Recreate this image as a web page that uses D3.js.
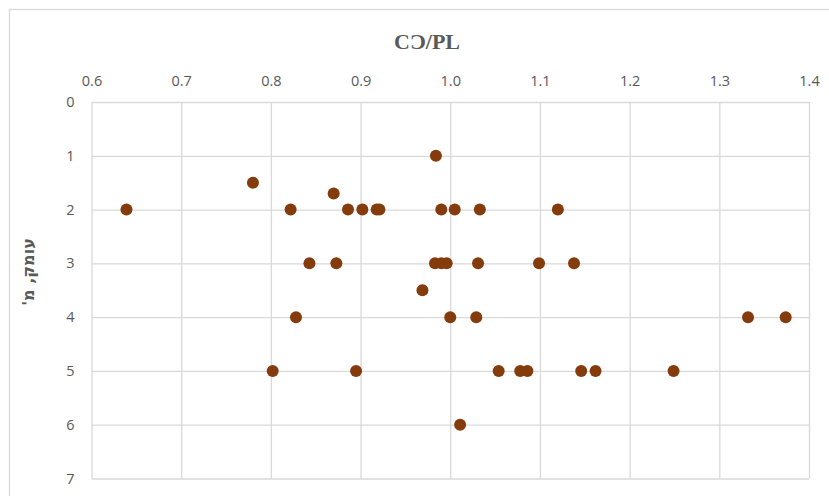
<!DOCTYPE html>
<html>
<head>
<meta charset="utf-8">
<script src="https://cdn.jsdelivr.net/npm/d3@7"></script>
<style>
  html, body { margin: 0; padding: 0; background: #fff; }
  svg { display: block; }
  .tick text { fill: #595959; font-family: "Open Sans", "Liberation Sans", sans-serif; font-size: 14.5px; }
</style>
</head>
<body>
<svg id="chart" width="829" height="496"></svg>
<script>
// Ratio (CƆ/PL) measured at each sample
const ratio = [
  0.984,
  0.780,
  0.870,
  0.639, 0.822, 0.886, 0.902, 0.918, 0.921, 0.990, 1.005, 1.033, 1.120,
  0.843, 0.873, 0.983, 0.990, 0.996, 1.031, 1.099, 1.138,
  0.969,
  0.828, 1.000, 1.029, 1.332, 1.374,
  0.802, 0.895, 1.054, 1.078, 1.086, 1.146, 1.162, 1.249,
  1.011
];
// Sample depth in metres
const depth = [
  1,
  1.5,
  1.7,
  2, 2, 2, 2, 2, 2, 2, 2, 2, 2,
  3, 3, 3, 3, 3, 3, 3, 3,
  3.5,
  4, 4, 4, 4, 4,
  5, 5, 5, 5, 5, 5, 5, 5,
  6
];
const xTicks = [0.6, 0.7, 0.8, 0.9, 1.0, 1.1, 1.2, 1.3, 1.4];
const yTicks = [0, 1, 2, 3, 4, 5, 6, 7];
const titleText = "CƆ/PL";
const yLabelText = "עומק, מ'";

const svg = d3.select("#chart");

// chart frame
svg.append("rect")
  .attr("x", 9.5).attr("y", 9.5)
  .attr("width", 900).attr("height", 600)
  .attr("fill", "none").attr("stroke", "#d9d9d9").attr("stroke-width", 1.3);

const x = d3.scaleLinear().domain([0.6, 1.4]).range([91.5, 809]);
const y = d3.scaleLinear().domain([0, 7]).range([102, 478.5]);

// vertical gridlines
svg.append("g")
  .attr("transform", `translate(0,${y(0)})`)
  .call(d3.axisTop(x).tickValues(xTicks).tickSize(-(y(7) - y(0))).tickFormat(""))
  .call(g => g.select(".domain").remove())
  .call(g => g.selectAll("line").attr("stroke", "#d9d9d9").attr("stroke-width", 1.3));

// horizontal gridlines
svg.append("g")
  .attr("transform", `translate(${x(0.6)},0)`)
  .call(d3.axisLeft(y).tickValues(yTicks).tickSize(-(x(1.4) - x(0.6))).tickFormat(""))
  .call(g => g.select(".domain").remove())
  .call(g => g.selectAll("line").attr("stroke", "#d9d9d9").attr("stroke-width", 1.3));

// top axis labels
svg.append("g")
  .attr("transform", `translate(0,${y(0) - 16})`)
  .call(d3.axisTop(x).tickValues(xTicks).tickSize(0).tickPadding(0).tickFormat(d3.format(".1f")))
  .call(g => g.select(".domain").remove());

// left axis labels
svg.append("g")
  .attr("transform", `translate(${x(0.6) - 16},0)`)
  .call(d3.axisLeft(y).tickValues(yTicks).tickSize(0).tickPadding(0).tickFormat(d3.format("d")))
  .call(g => g.select(".domain").remove())
  .call(g => g.selectAll("text").attr("dy", "0.32em").attr("text-anchor", "middle").attr("x", -5));

// points
svg.append("g")
  .selectAll("circle")
  .data(ratio.map((r, i) => ({ r, d: depth[i] })))
  .join("circle")
  .attr("cx", p => x(p.r))
  .attr("cy", p => y(p.d))
  .attr("r", 6)
  .attr("fill", "#843c0c");

// title
svg.append("text")
  .attr("x", 427).attr("y", 49)
  .attr("text-anchor", "middle")
  .attr("font-family", "'Liberation Serif', 'DejaVu Serif', serif")
  .attr("font-weight", "bold")
  .attr("font-size", 22)
  .attr("fill", "#595959")
  .text(titleText);

// y axis label
svg.append("text")
  .attr("transform", "translate(28,272) rotate(-90)")
  .attr("text-anchor", "middle")
  .attr("dy", "0.35em")
  .attr("direction", "rtl")
  .attr("font-family", "'DejaVu Sans', 'Noto Sans', sans-serif")
  .attr("font-weight", "bold")
  .attr("font-size", 16)
  .attr("fill", "#595959")
  .text(yLabelText);
</script>
</body>
</html>
